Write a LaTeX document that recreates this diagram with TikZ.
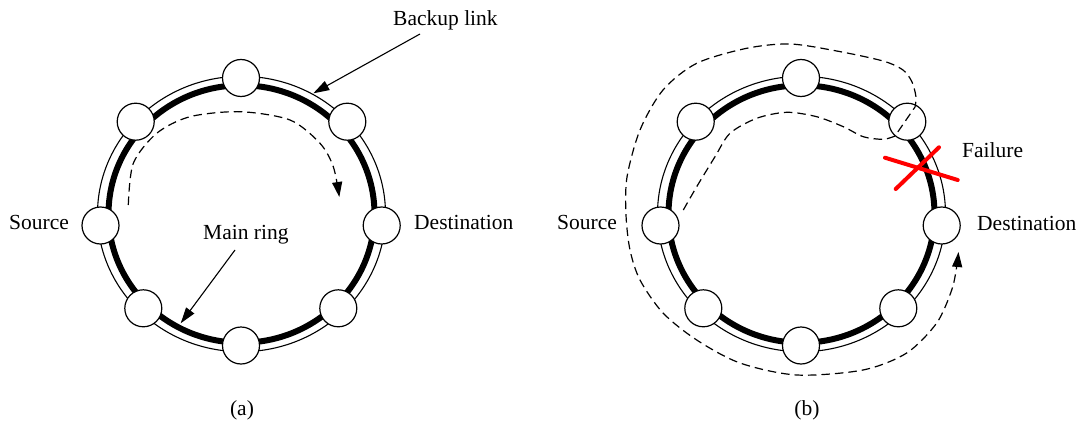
\documentclass[tikz,border=0pt]{standalone}
\usepackage{fontspec}
\setmainfont{Liberation Serif}
\usetikzlibrary{arrows.meta}

\begin{document}
\begin{tikzpicture}[x=1pt,y=-1pt,
  station/.style={circle,draw,fill=white,line width=1.2pt,minimum size=37pt,inner sep=0pt},
  lbl/.style={font=\fontsize{21.5}{25}\selectfont,inner sep=0pt},
  route/.style={line width=1.2pt,dash pattern=on 8.5pt off 5pt},
  tip/.style={-{Triangle[length=15pt,width=10pt]}},
  pointer/.style={line width=1.1pt,-{Triangle[length=16pt,width=10pt]}},
  backupline/.style={line width=1.1pt},
  mainline/.style={line width=6pt},
  cross/.style={red,line width=4pt,line cap=round},
]
\useasboundingbox (0,0) rectangle (1091,425);

% two copies of the ring: (a) and (b)
\foreach \dx/\tag in {0/a,560/b}{
  \begin{scope}[xshift=\dx pt]
    \draw[backupline] (241.5,214) ellipse [x radius=144, y radius=137.7];
    \draw[mainline]   (241.5,214) ellipse [x radius=133, y radius=128.7];
    \node[station] (\tag top) at (241,78) {};
    \node[station] (\tag tr)  at (347.3,121.7) {};
    \node[station] (\tag r)   at (381.7,225.5) {};
    \node[station] (\tag br)  at (338.3,308.3) {};
    \node[station] (\tag bot) at (241,345.5) {};
    \node[station] (\tag bl)  at (143.3,308.3) {};
    \node[station] (\tag l)   at (100.5,225.5) {};
    \node[station] (\tag tl)  at (135.7,121.7) {};
  \end{scope}
}

% ---- (a): normal operation ----
\node[lbl,anchor=base west] (srcA) at (9,229) {Source};
\node[lbl,anchor=base west] (dstA) at (414,229) {Destination};
\node[lbl,anchor=base west] (backupLbl) at (393,26) {Backup link};
\node[lbl,anchor=base west] (mainLbl) at (203,239) {Main ring};
\node[lbl] (capA) at (242,410) {(a)};

\coordinate (backupFrom) at (420,34);
\coordinate (backupTo) at (313.3,93.3);
\draw[pointer] (backupFrom) -- (backupTo);
\coordinate (mainFrom) at (235,250);
\coordinate (mainTo) at (180.7,323.3);
\draw[pointer] (mainFrom) -- (mainTo);

\draw[route,tip] plot[smooth] coordinates {(128.3,205) (133.3,163.3) (156.7,133.3) (190,116.7) (240,111.7) (290,120) (320,143.3) (333.3,166.7) (339.3,197)};

% ---- (b): failure and protection switching ----
\node[lbl,anchor=base west] (srcB) at (557,229) {Source};
\node[lbl,anchor=base west] (dstB) at (977,230) {Destination};
\node[lbl,anchor=base west] (failLbl) at (962,157) {Failure};
\node[lbl] (capB) at (807,410) {(b)};

\draw[cross] (885,157.7) -- (957.7,180);
\draw[cross] (939,147.3) -- (895.7,189);

\draw[route,tip]
  plot[smooth] coordinates {(683.3,210) (696.7,186.7) (715,156.7) (730,133.3) (756.7,118.3) (786.7,112.3) (816.7,116.7) (843.3,126.7) (863.3,136.7) (883.3,139.3) (895,136)}
  -- plot[smooth] coordinates {(915,107) (916,97) (912,82) (903,70) (883,61) (836.7,51) (790,44) (746.7,48.3) (696.7,63.3) (663,90) (640,130) (627,177) (626,215) (630,250) (640,280) (663,313) (696.7,340) (740,363) (796.7,375) (863,370) (906.7,353) (936.7,323) (951.7,290) (956.7,266.7) (958.5,252)};

\end{tikzpicture}
\end{document}
